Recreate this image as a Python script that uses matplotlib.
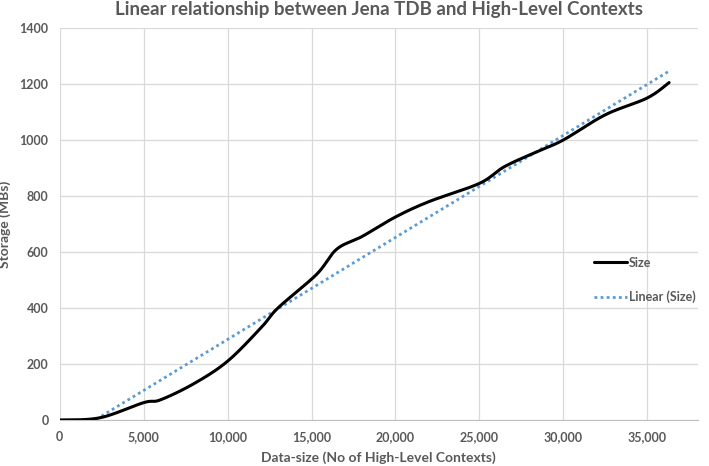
import matplotlib
matplotlib.use("Agg")
import matplotlib.pyplot as plt
import numpy as np

# data
data_size = [0, 2400, 5000, 6000, 8000, 10000, 12000, 13000, 15300, 16500,
             18000, 20000, 22000, 25000, 26500, 28500, 30000, 32500, 35000, 36300]
storage_mb = [0, 8, 62, 72, 130, 210, 330, 400, 520, 610,
              655, 725, 780, 845, 905, 960, 1000, 1090, 1150, 1205]

x_ticks = [0, 5000, 10000, 15000, 20000, 25000, 30000, 35000]
y_ticks = [0, 200, 400, 600, 800, 1000, 1200, 1400]

GRAY = "#595959"
FONT = ["Lato", "DejaVu Sans"]


def smooth(xs, ys, n=30):
    """Catmull-Rom curve through the points, like Excel's smoothed line."""
    xs = np.asarray(xs, float)
    ys = np.asarray(ys, float)
    px = np.concatenate([[xs[0]], xs, [xs[-1]]])
    py = np.concatenate([[ys[0]], ys, [ys[-1]]])
    out_x, out_y = [], []
    t = np.linspace(0, 1, n)
    for i in range(1, len(px) - 2):
        for p, out in ((px, out_x), (py, out_y)):
            p0, p1, p2, p3 = p[i - 1], p[i], p[i + 1], p[i + 2]
            c1 = p1 + (p2 - p0) / 6
            c2 = p2 - (p3 - p1) / 6
            out.extend((1 - t) ** 3 * p1 + 3 * (1 - t) ** 2 * t * c1
                       + 3 * (1 - t) * t ** 2 * c2 + t ** 3 * p2)
    return np.array(out_x), np.array(out_y)


plt.rcParams["font.family"] = FONT

fig = plt.figure(figsize=(7.09, 4.66), dpi=100)
ax = fig.add_axes([0.0842, 0.0987, 0.8998, 0.8413])

sx, sy = smooth(data_size, storage_mb)
ax.plot(sx, sy, color="black", lw=2.2, label="Size", solid_capstyle="round", zorder=3)

slope, intercept = np.polyfit(data_size, storage_mb, 1)
tx = np.array([data_size[0], data_size[-1]])
ax.plot(tx, slope * tx + intercept, color="#5b9bd5", lw=2, ls=(0, (1, 1.2)),
        label="Linear (Size)", zorder=2)

ax.set_xlim(0, 38000)
ax.set_ylim(0, 1400)
ax.set_xticks(x_ticks)
ax.set_yticks(y_ticks)
ax.set_xticklabels([f"{v:,}" for v in x_ticks])
ax.set_yticklabels([str(v) for v in y_ticks])
ax.grid(True, color="#d9d9d9", lw=0.9)
ax.set_axisbelow(True)
for side in ("top", "right", "left"):
    ax.spines[side].set_visible(False)
ax.spines["bottom"].set_color("#bfbfbf")
ax.tick_params(length=0, colors=GRAY, labelsize=9, pad=8)
for lbl in ax.get_xticklabels() + ax.get_yticklabels():
    lbl.set_fontweight("bold")

ax.set_title("Linear relationship between Jena TDB and High-Level Contexts",
             fontsize=13.5, fontweight="bold", color=GRAY, pad=9)
ax.set_xlabel("Data-size (No of High-Level Contexts)", fontsize=10,
              fontweight="bold", color=GRAY, labelpad=6)
ax.set_ylabel("Storage (MBs)", fontsize=10, fontweight="bold", color=GRAY, labelpad=6)

leg = ax.legend(loc="upper left", bbox_to_anchor=(0.82, 0.445), frameon=False,
                handlelength=2.6, handletextpad=0.2, labelspacing=1.75,
                prop={"weight": "bold", "size": 9})
for t in leg.get_texts():
    t.set_color(GRAY)

fig.savefig("out.png", dpi=100)
